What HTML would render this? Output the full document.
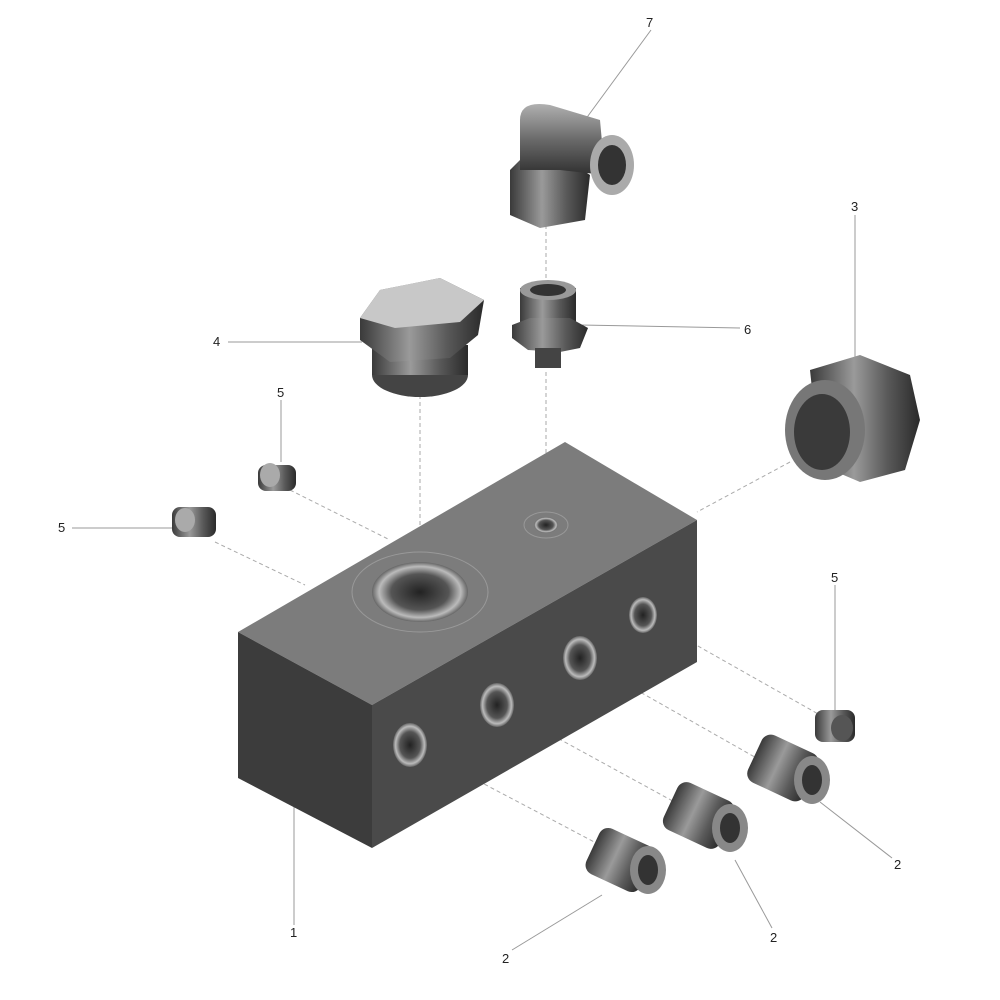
<!DOCTYPE html>
<html><head><meta charset="utf-8"><style>html,body{margin:0;padding:0;background:#fff}svg{display:block}</style></head><body>
<svg width="1000" height="1000" viewBox="0 0 1000 1000" xmlns="http://www.w3.org/2000/svg" font-family="Liberation Sans, sans-serif" font-size="13">
<defs>
<linearGradient id="metal" x1="0" y1="0" x2="1" y2="0"><stop offset="0" stop-color="#3a3a3a"/><stop offset="0.4" stop-color="#9a9a9a"/><stop offset="0.7" stop-color="#5a5a5a"/><stop offset="1" stop-color="#2a2a2a"/></linearGradient>
<linearGradient id="metal2" x1="0" y1="0" x2="0" y2="1"><stop offset="0" stop-color="#b0b0b0"/><stop offset="0.5" stop-color="#6a6a6a"/><stop offset="1" stop-color="#303030"/></linearGradient>
<radialGradient id="hole"><stop offset="0" stop-color="#222"/><stop offset="0.6" stop-color="#555"/><stop offset="0.85" stop-color="#bbb"/><stop offset="1" stop-color="#666"/></radialGradient>
</defs>
<g stroke="#999" stroke-width="1" fill="none">
<line x1="651" y1="30" x2="585" y2="120"/>
<line x1="855" y1="215" x2="855" y2="360"/>
<line x1="228" y1="342" x2="362" y2="342"/>
<line x1="740" y1="328" x2="580" y2="325"/>
<line x1="281" y1="400" x2="281" y2="462"/>
<line x1="72" y1="528" x2="178" y2="528"/>
<line x1="835" y1="585" x2="835" y2="712"/>
<line x1="294" y1="925" x2="294" y2="780"/>
<line x1="512" y1="950" x2="602" y2="895"/>
<line x1="772" y1="928" x2="735" y2="860"/>
<line x1="892" y1="858" x2="820" y2="802"/>
</g>
<g stroke="#aaa" stroke-width="1" stroke-dasharray="4,3" fill="none">
<line x1="290" y1="490" x2="390" y2="540"/>
<line x1="215" y1="542" x2="305" y2="585"/>
<line x1="420" y1="395" x2="420" y2="600"/>
<line x1="546" y1="372" x2="546" y2="520"/>
<line x1="546" y1="225" x2="546" y2="285"/>
<line x1="790" y1="462" x2="697" y2="512"/>
<line x1="643" y1="615" x2="820" y2="715"/>
<line x1="580" y1="658" x2="760" y2="760"/>
<line x1="497" y1="705" x2="680" y2="805"/>
<line x1="410" y1="745" x2="600" y2="845"/>
</g>
<!-- block -->
<polygon points="238,632 565,442 697,520 372,705" fill="#7c7c7c"/>
<polygon points="238,632 372,705 372,848 238,778" fill="#3c3c3c"/>
<polygon points="372,705 697,520 697,662 372,848" fill="#4a4a4a"/>
<ellipse cx="420" cy="592" rx="68" ry="40" fill="none" stroke="#999" stroke-width="1"/>
<ellipse cx="420" cy="592" rx="48" ry="30" fill="url(#hole)"/>
<ellipse cx="546" cy="525" rx="22" ry="13" fill="none" stroke="#999"/>
<ellipse cx="546" cy="525" rx="12" ry="8" fill="url(#hole)"/>
<g fill="url(#hole)">
<ellipse cx="410" cy="745" rx="17" ry="22"/>
<ellipse cx="497" cy="705" rx="17" ry="22"/>
<ellipse cx="580" cy="658" rx="17" ry="22"/>
<ellipse cx="643" cy="615" rx="14" ry="18"/>
</g>
<!-- plug 4 -->
<ellipse cx="420" cy="375" rx="48" ry="22" fill="#444"/>
<rect x="372" y="345" width="96" height="30" fill="url(#metal)"/>
<polygon points="360,318 380,290 440,278 484,300 478,335 450,358 390,362 360,340" fill="url(#metal)"/>
<polygon points="360,318 380,290 440,278 484,300 460,322 395,328" fill="#c8c8c8"/>
<!-- fitting 6 -->
<rect x="520" y="288" width="56" height="38" fill="url(#metal)"/>
<ellipse cx="548" cy="290" rx="28" ry="10" fill="#999"/>
<ellipse cx="548" cy="290" rx="18" ry="6" fill="#333"/>
<polygon points="512,325 530,318 570,318 588,328 580,348 560,352 528,350 512,338" fill="url(#metal)"/>
<rect x="535" y="348" width="26" height="20" fill="#444"/>
<!-- elbow 7 -->
<polygon points="510,170 520,160 575,165 590,175 585,220 540,228 510,215" fill="url(#metal)"/>
<path d="M520 170 L520 120 Q520 100 550 105 L600 120 L605 175 L560 170 Z" fill="url(#metal2)"/>
<ellipse cx="612" cy="165" rx="22" ry="30" fill="#aaa"/>
<ellipse cx="612" cy="165" rx="14" ry="20" fill="#333"/>
<!-- union 3 -->
<polygon points="810,370 860,355 910,375 920,420 905,470 860,482 820,465" fill="url(#metal)"/>
<ellipse cx="825" cy="430" rx="40" ry="50" fill="#777"/>
<ellipse cx="822" cy="432" rx="28" ry="38" fill="#3a3a3a"/>
<!-- plugs 5 -->
<g>
<rect x="258" y="465" width="38" height="26" rx="8" fill="url(#metal)"/><ellipse cx="270" cy="475" rx="10" ry="12" fill="#aaa"/>
<rect x="172" y="507" width="44" height="30" rx="8" fill="url(#metal)"/><ellipse cx="185" cy="520" rx="10" ry="12" fill="#aaa"/>
<rect x="815" y="710" width="40" height="32" rx="8" fill="url(#metal)"/><ellipse cx="842" cy="728" rx="11" ry="13" fill="#555"/>
</g>
<!-- fittings 2 -->
<g>
<rect x="590" y="835" width="60" height="50" rx="10" fill="url(#metal)" transform="rotate(25 620 860)"/>
<ellipse cx="648" cy="870" rx="18" ry="24" fill="#888"/><ellipse cx="648" cy="870" rx="10" ry="15" fill="#333"/>
<rect x="668" y="790" width="62" height="52" rx="10" fill="url(#metal)" transform="rotate(25 700 815)"/>
<ellipse cx="730" cy="828" rx="18" ry="24" fill="#888"/><ellipse cx="730" cy="828" rx="10" ry="15" fill="#333"/>
<rect x="752" y="742" width="62" height="52" rx="10" fill="url(#metal)" transform="rotate(25 783 768)"/>
<ellipse cx="812" cy="780" rx="18" ry="24" fill="#888"/><ellipse cx="812" cy="780" rx="10" ry="15" fill="#333"/>
</g>
<g fill="#222">
<text x="646" y="27">7</text><text x="851" y="211">3</text><text x="213" y="346">4</text>
<text x="744" y="334">6</text><text x="277" y="397">5</text><text x="58" y="532">5</text>
<text x="831" y="582">5</text><text x="290" y="937">1</text><text x="502" y="963">2</text>
<text x="770" y="942">2</text><text x="894" y="869">2</text>
</g>
</svg>
</body></html>
